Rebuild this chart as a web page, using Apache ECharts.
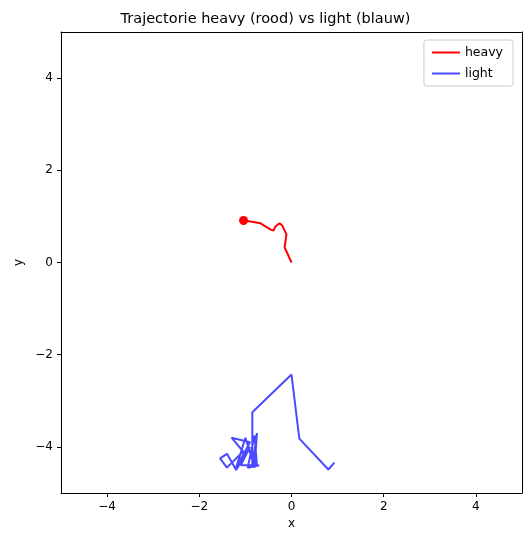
<!DOCTYPE html>
<html><head><meta charset="utf-8">
<script src="https://cdn.jsdelivr.net/npm/echarts@6/dist/echarts.min.js"></script>
<style>html,body{margin:0;padding:0;background:#fff}#c{width:531px;height:547px}</style>
</head><body><div id="c"></div>
<script>
const heavyX=[0,-0.02,-0.15,-0.11,-0.2,-0.26,-0.35,-0.39,-0.46,-0.67,-0.89,-1.04];
const heavyY=[0,0.02,0.33,0.61,0.8,0.85,0.78,0.69,0.72,0.85,0.89,0.91];
const lightX=[0.93,0.8,0.17,0,-0.85,-0.85,-0.75,-0.8,-1.0,-1.2,-0.9,-1.3,-1.05,-1.4,-1.55,-1.4,-1.2,-0.9,-1.1,-0.75,-0.8,-0.95,-0.7];
const lightY=[-4.34,-4.49,-3.82,-2.43,-3.25,-4.45,-3.7,-4.45,-3.8,-4.45,-3.9,-3.8,-4.1,-4.45,-4.25,-4.15,-4.5,-4.0,-4.4,-4.4,-3.75,-4.45,-4.4];
const ticks=[-4,-2,0,2,4];
const fmt=v=>ticks.includes(v)?(v<0?'\u2212'+(-v):String(v)):'';
const ax=(name,gap)=>({type:'value',min:-5,max:5,interval:1,name,nameLocation:'middle',nameGap:gap,
 nameTextStyle:{color:'#000',fontSize:12,fontFamily:'DejaVu Sans'},
 axisLine:{onZero:false,lineStyle:{color:'#000'}},axisTick:{length:4,lineStyle:{color:'#000'},
 customValues:ticks},axisLabel:{color:'#000',fontSize:12,fontFamily:'DejaVu Sans',formatter:fmt,customValues:ticks},splitLine:{show:false}});
const frame=pos=>({type:'value',min:-5,max:5,position:pos,axisLine:{onZero:false,lineStyle:{color:'#000'}},axisTick:{show:false},axisLabel:{show:false},splitLine:{show:false}});
const chart=echarts.init(document.getElementById('c'));
chart.setOption({
 animation:false,
 title:{text:'Trajectorie heavy (rood) vs light (blauw)',left:'center',top:7,textStyle:{fontSize:14.5,fontWeight:'normal',color:'#000',fontFamily:'DejaVu Sans'}},
 grid:{left:61,right:9,top:32,bottom:54},
 xAxis:[Object.assign(ax('x',24),{position:'bottom'}),frame('top')],
 yAxis:[Object.assign(ax('y',36),{position:'left'}),frame('right')],
 legend:{right:18,top:40,orient:'vertical',itemWidth:28,itemHeight:2,icon:'rect',itemGap:8,
  borderColor:'#ccc',borderWidth:1,borderRadius:3,padding:[6,10,6,8],
  textStyle:{fontSize:12.5,fontFamily:'DejaVu Sans',color:'#000'},data:['heavy','light']},
 series:[
  {name:'heavy',type:'line',data:heavyX.map((x,i)=>[x,heavyY[i]]),color:'#ff0000',lineStyle:{width:2},symbol:'none'},
  {name:'light',type:'line',data:lightX.map((x,i)=>[x,lightY[i]]),color:'#4a4aff',lineStyle:{width:2},symbol:'none'},
  {name:'heavyEnd',type:'scatter',data:[[heavyX[heavyX.length-1],heavyY[heavyY.length-1]]],itemStyle:{color:'#ff0000',opacity:1},symbolSize:9}
 ]
});
</script></body></html>
